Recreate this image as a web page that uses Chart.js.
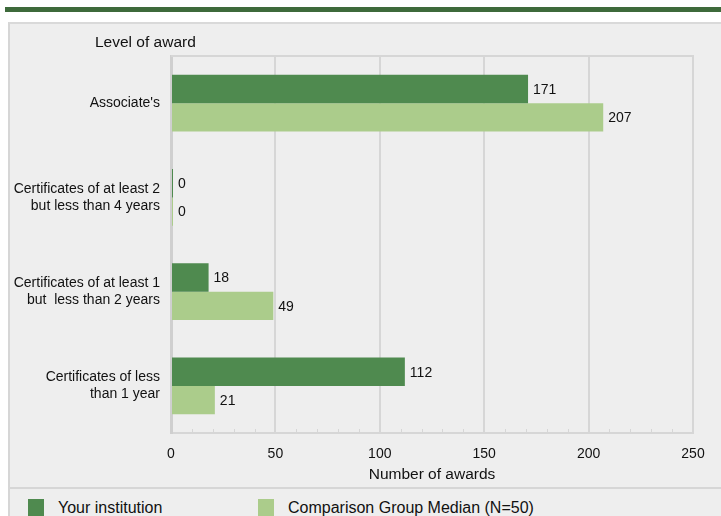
<!DOCTYPE html>
<html>
<head>
<meta charset="utf-8">
<script src="https://cdn.jsdelivr.net/npm/chart.js@4"></script>
<style>
  body { margin: 0; width: 721px; height: 516px; background: #fff; position: relative; overflow: hidden; font-family: "Liberation Sans", Arial, sans-serif; }
  #band { position: absolute; left: 5px; top: 7px; width: 716px; height: 5px; background: #3e6a3b; }
  #panel { position: absolute; left: 8px; top: 22px; width: 713px; height: 494px; background: #eeeeee; border-left: 2px solid #d6d6d6; border-top: 2px solid #d9d9d9; box-sizing: border-box; }
  #wrap { position: absolute; left: -2px; top: -2px; width: 713px; height: 466px; }
  #ytitle { position: absolute; left: 85px; top: 9px; font-size: 15.5px; color: #111; }
  #sep { position: absolute; left: 0; top: 463px; width: 713px; height: 2px; background: #d6d6d6; }
  .leg { position: absolute; top: 475px; font-size: 16px; color: #111; }
  .leg span { display: inline-block; width: 16px; height: 18px; vertical-align: -4px; margin-right: 14px; }
</style>
</head>
<body>
<div id="band"></div>
<div id="panel">
  <div id="wrap"><canvas id="awardsChart"></canvas></div>
  <div id="ytitle">Level of award</div>
  <div id="sep"></div>
  <div id="legend"></div>
</div>
<script>
// Données du graphique
const categories = [
  "Associate's",
  ['Certificates of at least 2', 'but less than 4 years'],
  ['Certificates of at least 1', 'but  less than 2 years'],
  ['Certificates of less', 'than 1 year']
];
const seriesNames = ['Your institution', 'Comparison Group Median (N=50)'];
const yourInstitution = [171, 0, 18, 112];
const groupMedian = [207, 0, 49, 21];
const xTicks = [0, 50, 100, 150, 200, 250];
const colors = ['#4f8a4f', '#abcc8b'];

// Légende en HTML
const legendLeft = [18, 248];
const legend = document.getElementById('legend');
seriesNames.forEach((name, i) => {
    const d = document.createElement('div');
    d.className = 'leg';
    d.style.left = legendLeft[i] + 'px';
    d.innerHTML = '<span style="background:' + colors[i] + '"></span>' + name;
    legend.appendChild(d);
});

// Étiquettes de valeurs, cadre et petites graduations
const extras = {
    id: 'extras',
    afterDatasetsDraw(chart) {
        const ctx = chart.ctx;
        const area = chart.chartArea;
        const xs = chart.scales.x;
        ctx.save();
        // cadre du haut
        ctx.strokeStyle = '#d6d6d6';
        ctx.lineWidth = 2;
        ctx.beginPath();
        ctx.moveTo(area.left, area.top);
        ctx.lineTo(area.right + 1, area.top);
        ctx.stroke();
        // graduations mineures
        ctx.lineWidth = 1;
        for (let v = 10; v < 250; v += 10) {
            if (v % 50 === 0) continue;
            const x = Math.round(xs.getPixelForValue(v)) + 0.5;
            ctx.beginPath();
            ctx.moveTo(x, area.bottom);
            ctx.lineTo(x, area.bottom - 4);
            ctx.stroke();
        }
        // valeurs
        ctx.fillStyle = '#111';
        ctx.font = '14px "Liberation Sans", Arial, sans-serif';
        ctx.textBaseline = 'middle';
        ctx.textAlign = 'left';
        chart.data.datasets.forEach((ds, i) => {
            chart.getDatasetMeta(i).data.forEach((bar, j) => {
                const end = Math.max(bar.x, xs.getPixelForValue(0) + 2);
                ctx.fillText(String(ds.data[j]), end + 5, bar.y + 1);
            });
        });
        ctx.restore();
    }
};

const ctx = document.getElementById('awardsChart').getContext('2d');
new Chart(ctx, {
    type: 'bar',
    data: {
        labels: categories,
        datasets: [
            { label: seriesNames[0], data: yourInstitution, backgroundColor: colors[0], minBarLength: 2 },
            { label: seriesNames[1], data: groupMedian, backgroundColor: colors[1], minBarLength: 2 }
        ]
    },
    options: {
        indexAxis: 'y',
        responsive: true,
        maintainAspectRatio: false,
        animation: false,
        layout: { padding: { top: 34, right: 28, left: 0, bottom: 0 } },
        datasets: { bar: { categoryPercentage: 0.6, barPercentage: 1.0 } },
        scales: {
            x: {
                min: 0,
                max: 250,
                afterBuildTicks: scale => { scale.ticks = xTicks.map(v => ({ value: v })); },
                afterFit: scale => { scale.height = 55; },
                grid: { color: '#d6d6d6', lineWidth: 2, drawTicks: false },
                border: { color: '#d6d6d6', width: 2 },
                ticks: { color: '#111', padding: 13, font: { size: 14, family: '"Liberation Sans", Arial' } },
                title: {
                    display: true,
                    text: 'Number of awards',
                    color: '#111',
                    padding: { top: 4, bottom: 4 },
                    font: { size: 15.5, family: '"Liberation Sans", Arial' }
                }
            },
            y: {
                afterFit: scale => { scale.width = 163; },
                grid: { display: false },
                border: { color: '#cfcfcf', width: 3 },
                ticks: { color: '#111', padding: 3, font: { size: 14, family: '"Liberation Sans", Arial', lineHeight: 1.2 } }
            }
        },
        plugins: {
            legend: { display: false },
            tooltip: { enabled: false }
        }
    },
    plugins: [extras]
});
</script>
</body>
</html>
